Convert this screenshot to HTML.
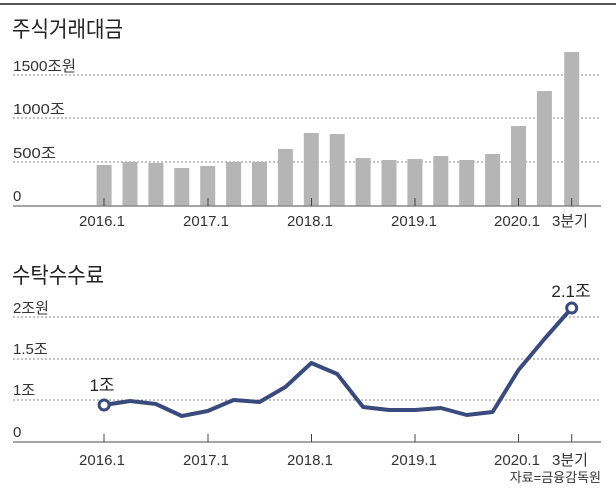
<!DOCTYPE html>
<html><head><meta charset="utf-8"><style>
html,body{margin:0;padding:0;background:#fff;}
svg{display:block;font-family:"Liberation Sans","Noto Sans CJK KR",sans-serif;}
</style></head><body>
<svg width="616" height="496" viewBox="0 0 616 496">
<line x1="0" y1="4" x2="616" y2="4" stroke="#555" stroke-width="2"/>
<text x="12" y="37" font-size="22" fill="#222" textLength="111" lengthAdjust="spacingAndGlyphs">주식거래대금</text>
<g stroke="#888" stroke-width="1" stroke-dasharray="2,2">
<line x1="13" y1="75" x2="601" y2="75"/><line x1="13" y1="118" x2="601" y2="118"/><line x1="13" y1="162" x2="601" y2="162"/>
</g>
<g font-size="15" fill="#333">
<text x="13" y="71" textLength="63" lengthAdjust="spacingAndGlyphs">1500조원</text><text x="13" y="114" textLength="52" lengthAdjust="spacingAndGlyphs">1000조</text><text x="13" y="158" textLength="43" lengthAdjust="spacingAndGlyphs">500조</text><text x="13" y="201">0</text>
</g>
<g fill="#b5b5b5">
<rect x="96.6" y="165" width="15" height="41"/><rect x="122.5" y="162" width="15" height="44"/><rect x="148.4" y="163" width="15" height="43"/><rect x="174.3" y="168" width="15" height="38"/><rect x="200.2" y="166" width="15" height="40"/><rect x="226.1" y="162" width="15" height="44"/><rect x="252" y="162" width="15" height="44"/><rect x="277.9" y="149" width="15" height="57"/><rect x="303.8" y="133" width="15" height="73"/><rect x="329.7" y="134" width="15" height="72"/><rect x="355.6" y="158" width="15" height="48"/><rect x="381.5" y="160" width="15" height="46"/><rect x="407.4" y="159" width="15" height="47"/><rect x="433.3" y="156" width="15" height="50"/><rect x="459.2" y="160" width="15" height="46"/><rect x="485.1" y="154" width="15" height="52"/><rect x="511" y="126" width="15" height="80"/><rect x="536.9" y="91" width="15" height="115"/><rect x="564.2" y="52" width="15" height="154"/>
</g>
<line x1="13" y1="206" x2="601" y2="206" stroke="#888" stroke-width="1.5"/>
<g stroke="#444" stroke-width="1"><line x1="104" y1="198" x2="104" y2="206"/><line x1="208" y1="198" x2="208" y2="206"/><line x1="311.5" y1="198" x2="311.5" y2="206"/><line x1="415" y1="198" x2="415" y2="206"/><line x1="518.5" y1="198" x2="518.5" y2="206"/><line x1="571.7" y1="198" x2="571.7" y2="206"/></g>
<g font-size="15" fill="#333" text-anchor="middle">
<text x="102" y="226">2016.1</text><text x="206" y="226">2017.1</text><text x="310" y="226">2018.1</text><text x="414" y="226">2019.1</text><text x="517" y="226">2020.1</text><text x="570" y="226">3분기</text>
</g>

<text x="12" y="283" font-size="22" fill="#222" textLength="92" lengthAdjust="spacingAndGlyphs">수탁수수료</text>
<g stroke="#888" stroke-width="1" stroke-dasharray="2,2">
<line x1="13" y1="317" x2="601" y2="317"/><line x1="13" y1="359" x2="601" y2="359"/><line x1="13" y1="400" x2="601" y2="400"/>
</g>
<g font-size="15" fill="#333">
<text x="13" y="313">2조원</text><text x="13" y="354">1.5조</text><text x="13" y="395">1조</text><text x="13" y="437">0</text>
</g>
<line x1="13" y1="442" x2="601" y2="442" stroke="#888" stroke-width="1.5"/>
<g stroke="#444" stroke-width="1"><line x1="104" y1="434" x2="104" y2="442"/><line x1="208" y1="434" x2="208" y2="442"/><line x1="311.5" y1="434" x2="311.5" y2="442"/><line x1="415" y1="434" x2="415" y2="442"/><line x1="518.5" y1="434" x2="518.5" y2="442"/><line x1="571.7" y1="434" x2="571.7" y2="442"/></g>
<polyline fill="none" stroke="#3b4a7c" stroke-width="4" stroke-linejoin="round" points="104.1,405 130,401 155.9,404 181.8,416 207.7,411 233.6,400 259.5,402 285.4,387 311.3,363 337.2,374 363.1,407 389,410 414.9,410 440.8,408 466.7,415 492.6,412 518.5,370 544.4,339 571.7,308"/>
<circle cx="104.1" cy="405" r="5" fill="#fff" stroke="#3b4a7c" stroke-width="3"/>
<circle cx="571.7" cy="308" r="5" fill="#fff" stroke="#3b4a7c" stroke-width="3"/>
<text x="102" y="391" font-size="17" fill="#222" text-anchor="middle">1조</text>
<text x="571" y="297" font-size="17" fill="#222" text-anchor="middle">2.1조</text>
<g font-size="15" fill="#333" text-anchor="middle">
<text x="102" y="465">2016.1</text><text x="206" y="465">2017.1</text><text x="310" y="465">2018.1</text><text x="414" y="465">2019.1</text><text x="517" y="465">2020.1</text><text x="570" y="465">3분기</text>
</g>
<text x="601" y="482" font-size="13" fill="#333" text-anchor="end">자료=금융감독원</text>
</svg>
</body></html>
